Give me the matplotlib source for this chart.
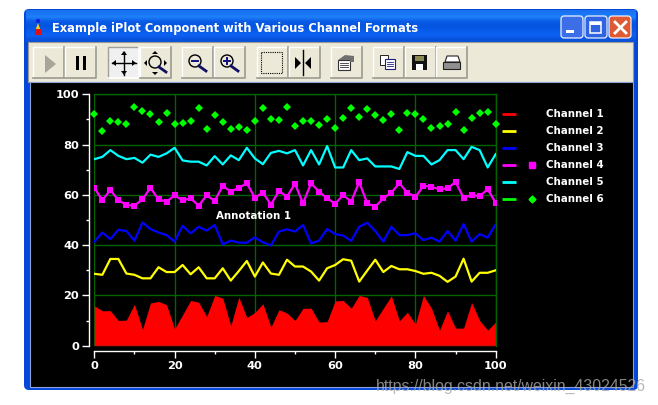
import numpy as np
import matplotlib
matplotlib.use("Agg")
import matplotlib.pyplot as plt
from matplotlib.patches import Rectangle, Circle, Polygon, FancyBboxPatch
from matplotlib.ticker import MultipleLocator

x_values = list(range(0, 101, 2))
channel_1 = [15.9,13.9,13.9,10,10.2,16.5,6.5,17,17.6,16.3,6.7,12.3,18,17.3,11.6,20,18.9,7.9,19.3,11.2,13.2,16.7,7.4,14.3,13,
             10,14.9,14.9,9.4,9.6,17.8,18,14.9,20,19.2,9.9,14.9,19.8,9.9,13.3,8.6,20,14.9,6.2,13.9,7,7,17.2,10,6.2,9.4]
channel_2 = [28.6,28.2,34.5,34.5,28.7,28.2,26.8,26.8,31.2,29.3,29.3,32.1,28.4,31.2,26.8,26.8,30.8,25.9,29.7,33.7,27.5,33.1,28.7,28.2,34.2,
             31.5,31.5,29.5,25.9,30.8,32.1,34.4,33.8,25.5,29.9,34.2,29.3,31.7,30.4,30.4,29.7,28.6,29,27.8,25.4,27.5,34.6,25.5,29,29,30]
channel_3 = [41.4,45,42.4,46.1,45.6,41.8,49,46.4,45,44,41.4,47.7,44.7,47.3,45.8,48,40.3,41.8,41,41,43.1,41.1,39.9,45.4,46.3,
             45.4,48,40.7,41.8,46.4,44.4,43.8,41.7,47.3,48.9,45.6,41.4,47.3,44,44,44.7,42,43,41.4,45.6,41.8,48.4,41.4,44.4,43,48.3]
channel_4 = [62.8,57.9,61.9,57.9,56,55.7,58.2,62.8,58.2,57.3,59.8,57.8,58.6,55.7,59.8,57.6,63.6,61.3,62.8,64.6,58.9,60.9,56.1,61.5,59.3,
             64.4,56.6,64.6,61.3,58.6,56.5,59.9,57.3,65.1,56.6,55.3,58.6,60.9,64.6,60.9,59.1,63.6,63.2,62.2,62.6,65.1,58.9,59.9,59.5,62.2,56.9]
channel_5 = [74.2,75.1,77.8,75.5,74.2,74.7,72.8,76,75.1,76.5,78.7,73.7,73.2,73.2,71.7,75.4,72.1,75.7,73.8,78.7,74.5,72.2,76.7,77.5,76.5,
             77.8,71.7,77.8,72.1,79.4,70.9,70.9,77.8,73.8,74.5,71.3,71.3,71.3,70.3,77,75.5,75.5,72.1,73.8,77.8,77.8,74.2,79.1,77.8,70.9,76.2]
channel_6 = [92,85.3,89.5,89.1,88.3,95,93.3,92,89.1,92.5,88.3,88.6,89.5,94.6,86.2,91.7,89,86.2,87,85.7,89.5,94.6,90,89.9,95,
             87.4,89.2,89.2,87.8,90,86.5,90.4,94.6,90.8,94.2,91.7,89.6,92.1,85.7,92.5,92.1,90,86.5,87.4,88.2,92.9,85.7,90.4,92.5,92.9,88.2]
channel_names = ["Channel 1", "Channel 2", "Channel 3", "Channel 4", "Channel 5", "Channel 6"]
channel_colors = ["#ff0000", "#ffff00", "#0000ff", "#ff00ff", "#00ffff", "#00ff00"]
title_text = "Example iPlot Component with Various Channel Formats"
annotation_text = "Annotation 1"
watermark_text = "https://blog.csdn.net/weixin_43024526"

W, H = 658, 405
fig = plt.figure(figsize=(W/100, H/100), dpi=100, facecolor="white")
FONT = "DejaVu Sans"

# ---- window chrome, in pixel coordinates ----
bg = fig.add_axes([0, 0, 1, 1], zorder=0)
bg.set_xlim(0, W); bg.set_ylim(H, 0); bg.axis("off")

bg.add_patch(FancyBboxPatch((27, 12), 608, 375, boxstyle="round,pad=3,rounding_size=5", fc="#0548d8", ec="none"))
grad = np.array([[0.10, 0.45, 0.95], [0.12, 0.50, 0.98], [0.04, 0.36, 0.90], [0.02, 0.33, 0.88],
                 [0.03, 0.36, 0.92], [0.05, 0.38, 0.95], [0.03, 0.32, 0.86]])[:, None, :]
bg.imshow(grad, extent=(26, 636, 42, 10), aspect="auto", interpolation="bilinear", zorder=1)
bg.set_xlim(0, W); bg.set_ylim(H, 0)
bg.add_patch(Rectangle((28, 42), 605, 40, fc="#ece9d8", ec="#9a9a90", lw=0.8, zorder=2))
bg.add_patch(Rectangle((30, 82), 603, 305, fc="black", ec="#8aa0d8", lw=0.8, zorder=2))

bg.text(52, 28.5, title_text, color="white", fontsize=8.3, fontweight="bold", family=FONT, va="center", ha="left", zorder=5)
# title icon
bg.add_patch(Circle((38, 21), 2.2, fc="#1020e0", ec="none", zorder=5))
bg.add_patch(Polygon([[38, 23], [35.5, 30], [40.5, 30]], fc="#f8d020", ec="none", zorder=5))
bg.add_patch(Rectangle((35, 29), 6, 6, fc="#e01010", ec="none", zorder=5))

# caption buttons
for x0, col in [(561, "#3c6ee8"), (585, "#2f63e2"), (609, "#dd5a35")]:
    bg.add_patch(FancyBboxPatch((x0+1, 17), 20, 20, boxstyle="round,pad=1,rounding_size=3", fc=col, ec="white", lw=0.8, zorder=5))
bg.add_patch(Rectangle((566, 30), 8, 3, fc="white", ec="none", zorder=6))
bg.add_patch(Rectangle((590, 22), 11, 11, fc="none", ec="white", lw=1.1, zorder=6))
bg.add_patch(Rectangle((590, 22), 11, 2.5, fc="white", ec="none", zorder=6))
bg.plot([615, 626], [22, 33], color="white", lw=2, zorder=6)
bg.plot([615, 626], [33, 22], color="white", lw=2, zorder=6)

# toolbar buttons
buttons = [33, 65, 108, 140, 182, 214, 257, 289, 331, 373, 405, 436]
for i, x0 in enumerate(buttons):
    pressed = i == 2
    bg.add_patch(Rectangle((x0, 47), 31, 31, fc="#f0f0f0" if pressed else "#ece9d8", ec="none", zorder=3))
    bg.plot([x0, x0, x0+31], [78, 47, 47], color="#a0a098" if pressed else "white", lw=1, zorder=4)
    bg.plot([x0, x0+31, x0+31], [78, 78, 47], color="white" if pressed else "#9a9a90", lw=1.2, zorder=4)
# play, pause
bg.add_patch(Polygon([[45, 55], [45, 73], [56, 64]], fc="#a8a498", ec="none", zorder=5))
bg.add_patch(Rectangle((76, 56), 3, 14, fc="black", zorder=5))
bg.add_patch(Rectangle((83, 56), 3, 14, fc="black", zorder=5))
# move
bg.plot([112, 136], [63, 63], color="black", lw=1, zorder=5)
bg.plot([124, 124], [52, 75], color="black", lw=1, zorder=5)
for pts in ([[112, 63], [116, 60], [116, 66]], [[136, 63], [132, 60], [132, 66]],
            [[124, 51], [121, 55], [127, 55]], [[124, 75], [121, 71], [127, 71]]):
    bg.add_patch(Polygon(pts, fc="black", ec="none", zorder=5))
# zoom box
bg.add_patch(Circle((155, 62), 6, fc="none", ec="black", lw=1, zorder=5))
bg.plot([159, 166], [67, 72], color="#101060", lw=2, zorder=5)
for pts in ([[144, 63], [147, 60], [147, 66]], [[167, 63], [164, 60], [164, 66]],
            [[155, 51], [152, 54], [158, 54]], [[155, 75], [152, 72], [158, 72]]):
    bg.add_patch(Polygon(pts, fc="black", ec="none", zorder=5))
# zoom out / in
for cx, plus in [(195, False), (227, True)]:
    bg.add_patch(Circle((cx, 61), 6, fc="none", ec="black", lw=1, zorder=5))
    bg.plot([cx+4, cx+11], [66, 71], color="#101060", lw=2, zorder=5)
    bg.plot([cx-3, cx+3], [61, 61], color="#101080", lw=1.4, zorder=5)
    if plus:
        bg.plot([cx, cx], [58, 64], color="#101080", lw=1.4, zorder=5)
# selection
bg.add_patch(Rectangle((261, 52), 21, 21, fc="none", ec="black", lw=0.8, ls=(0, (1, 1)), zorder=5))
# cursor
bg.plot([303, 303], [50, 75], color="black", lw=1, zorder=5)
bg.add_patch(Polygon([[295, 57], [295, 69], [301, 63]], fc="black", zorder=5))
bg.add_patch(Polygon([[311, 57], [311, 69], [305, 63]], fc="black", zorder=5))
# properties
bg.add_patch(Rectangle((338, 60), 12, 10, fc="white", ec="#333333", lw=0.8, zorder=5))
bg.add_patch(Polygon([[338, 60], [345, 55], [354, 56], [354, 62], [350, 62], [350, 60]], fc="#707070", ec="none", zorder=5))
for yy in (63, 65, 67):
    bg.plot([340, 348], [yy, yy], color="#333333", lw=0.6, zorder=6)
# copy
bg.add_patch(Rectangle((380, 55), 8, 10, fc="white", ec="#222222", lw=0.7, zorder=5))
bg.add_patch(Rectangle((385, 59), 10, 10, fc="white", ec="#202080", lw=0.8, zorder=6))
for yy in (62, 64, 66):
    bg.plot([387, 393], [yy, yy], color="#202080", lw=0.6, zorder=7)
# save
bg.add_patch(Rectangle((412, 55), 15, 15, fc="#111111", ec="none", zorder=5))
bg.add_patch(Rectangle((415, 56), 9, 5, fc="#8a8a50", ec="none", zorder=6))
bg.add_patch(Rectangle((416, 64), 7, 6, fc="white", ec="none", zorder=6))
# print
bg.add_patch(Polygon([[447, 56], [458, 56], [460, 62], [445, 62]], fc="white", ec="#222222", lw=0.8, zorder=5))
bg.add_patch(Rectangle((443, 62), 17, 7, fc="#909090", ec="#222222", lw=0.8, zorder=5))

# legend
legend_y = [114, 131, 148, 165, 182, 199]
for name, col, yy in zip(channel_names, channel_colors, legend_y):
    bg.plot([502, 516], [yy, yy], color=col, lw=2, solid_capstyle="butt", zorder=5)
    bg.text(546, yy, name, color="white", fontsize=7.4, fontweight="bold", family=FONT, va="center", ha="left", zorder=5)
bg.plot([532], [165], marker="s", ms=4.5, color=channel_colors[3], ls="none", zorder=5)
bg.plot([532], [199], marker="D", ms=3.5, color=channel_colors[5], ls="none", zorder=5)

# ---- plot ----
L, R, T, B = 94.3, 495.7, 94.3, 345.7
ax = fig.add_axes([L/W, 1-B/H, (R-L)/W, (B-T)/H], zorder=1, facecolor="black")
ax.set_xlim(0, 100); ax.set_ylim(0, 100)
ax.patch.set_alpha(0)
ax.grid(True, which="major", color="#006400", lw=1)
ax.set_axisbelow(True)
ax.xaxis.set_major_locator(MultipleLocator(20)); ax.xaxis.set_minor_locator(MultipleLocator(10))
ax.yaxis.set_major_locator(MultipleLocator(20)); ax.yaxis.set_minor_locator(MultipleLocator(10))

ax.fill_between(x_values, 0, channel_1, color=channel_colors[0], lw=0, zorder=2)
ax.plot(x_values, channel_2, color=channel_colors[1], lw=1.6, zorder=3)
ax.plot(x_values, channel_3, color=channel_colors[2], lw=1.6, zorder=3)
ax.plot(x_values, channel_4, color=channel_colors[3], lw=1.6, marker="s", ms=4.3, mew=0, zorder=3)
ax.plot(x_values, channel_5, color=channel_colors[4], lw=1.6, zorder=3)
ax.plot(x_values, channel_6, color=channel_colors[5], ls="none", marker="D", ms=3.9, mew=0, zorder=3, clip_on=False)
ax.text(30.2, 51.5, annotation_text, color="white", fontsize=7.4, fontweight="bold", family=FONT, va="center", ha="left", zorder=4)

for s in ("top", "right"):
    ax.spines[s].set_color("#006400"); ax.spines[s].set_linewidth(1)
for s in ("left", "bottom"):
    ax.spines[s].set_color("white"); ax.spines[s].set_linewidth(1)
    ax.spines[s].set_position(("outward", 3.8))
ax.hlines(0, 0, 100, color="#006400", lw=1, zorder=2.5)
ax.tick_params(axis="both", which="major", length=5, width=1, color="white", labelcolor="white", labelsize=8.2, pad=2)
ax.tick_params(axis="both", which="minor", length=2.5, width=1, color="white")
for lab in ax.get_xticklabels() + ax.get_yticklabels():
    lab.set_fontweight("bold"); lab.set_family(FONT)

fig.text(376/W, 1-386/H, watermark_text, color="#a8a8a8", alpha=0.8, fontsize=11.4, family="Liberation Sans", va="center", ha="left", zorder=10)

fig.savefig("out.png", dpi=100, facecolor="white")
